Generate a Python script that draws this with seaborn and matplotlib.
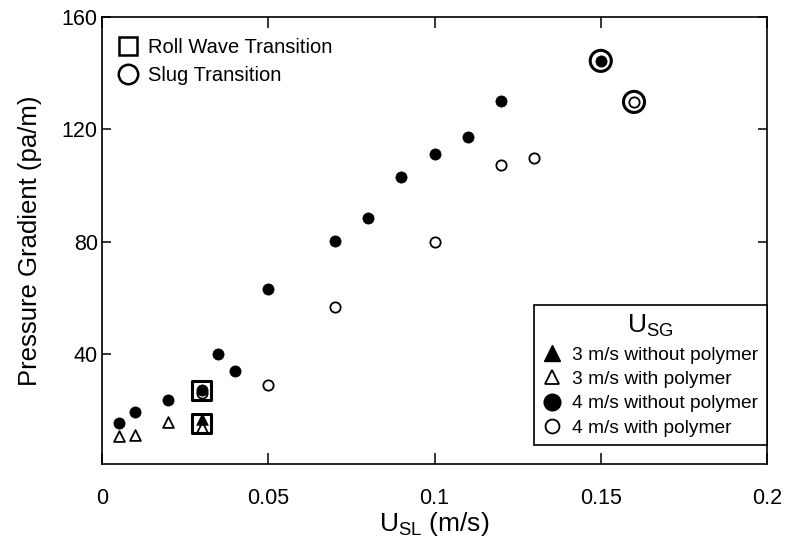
import pandas as pd
import seaborn as sns
import matplotlib.pyplot as plt
from matplotlib.lines import Line2D

# dados
x_3_sem = [0.03]
y_3_sem = [17]

x_3_com = [0.005, 0.01, 0.02, 0.03]
y_3_com = [11, 11.5, 16, 14]

x_4_sem = [0.005, 0.01, 0.02, 0.03, 0.035, 0.04, 0.05, 0.07, 0.08, 0.09, 0.1, 0.11, 0.12, 0.15]
y_4_sem = [15.5, 19.4, 23.8, 27.5, 40.2, 34, 63.3, 80.4, 88.6, 103, 111.2, 117.3, 130.2, 144.4]

x_4_com = [0.03, 0.05, 0.07, 0.1, 0.12, 0.13, 0.16]
y_4_com = [26.3, 29.2, 57, 80, 107.3, 109.7, 129.8]

# transições
x_roll = [0.03, 0.03]
y_roll = [27.2, 15.4]
x_slug = [0.15, 0.16]
y_slug = [144.4, 129.8]

sns.set_theme(style='ticks')
plt.rcParams['font.family'] = ['Liberation Sans', 'DejaVu Sans']
plt.rcParams['mathtext.fontset'] = 'custom'
plt.rcParams['mathtext.rm'] = 'Liberation Sans'
plt.rcParams['mathtext.it'] = 'Liberation Sans:italic'
plt.rcParams['text.color'] = 'black'
plt.rcParams['axes.labelcolor'] = 'black'

fig = plt.figure(figsize=(7.87, 5.4), dpi=100)
ax = fig.add_axes([0.1296, 0.1407, 0.845, 0.8278])

sns.scatterplot(x=x_3_com, y=y_3_com, marker='^', s=60, color='white', edgecolor='black', linewidth=1.3, ax=ax, zorder=3)
sns.scatterplot(x=x_3_sem, y=y_3_sem, marker='^', s=70, color='black', edgecolor='black', linewidth=0.5, ax=ax, zorder=3)
sns.scatterplot(x=x_4_com, y=y_4_com, marker='o', s=55, color='white', edgecolor='black', linewidth=1.3, ax=ax, zorder=3)
sns.scatterplot(x=x_4_sem, y=y_4_sem, marker='o', s=65, color='black', edgecolor='black', linewidth=0.5, ax=ax, zorder=4)
sns.scatterplot(x=x_roll, y=y_roll, marker='s', s=190, color='none', edgecolor='black', linewidth=2.2, ax=ax, zorder=5)
sns.scatterplot(x=x_slug, y=y_slug, marker='o', s=230, color='none', edgecolor='black', linewidth=2.2, ax=ax, zorder=5)

ax.set_xlim(0, 0.2)
ax.set_ylim(1, 159.3)
ax.set_xticks([0, 0.05, 0.1, 0.15, 0.2])
ax.set_xticklabels(['0', '0.05', '0.1', '0.15', '0.2'])
ax.set_yticks([40, 80, 120, 160])
ax.tick_params(direction='in', width=1.1, top=True, right=True, labelsize=15.5, colors='black')
ax.tick_params(axis='x', length=8, pad=17)
ax.tick_params(axis='y', length=6.5, pad=3)
for sp in ax.spines.values():
    sp.set_linewidth(1.2)
    sp.set_color('black')

ax.set_xlabel(r'U$_{\mathrm{SL}}$ (m/s)', fontsize=19, labelpad=1)
ax.set_ylabel('Pressure Gradient (pa/m)', fontsize=18.5, labelpad=14)

# legenda das transições
h1 = [Line2D([], [], marker='s', ls='none', ms=13, mfc='none', mec='black', mew=1.8),
      Line2D([], [], marker='o', ls='none', ms=14, mfc='none', mec='black', mew=1.8)]
leg1 = ax.legend(h1, ['Roll Wave Transition', 'Slug Transition'], loc='upper left',
                 bbox_to_anchor=(0.0, 0.987), frameon=False, fontsize=14.5,
                 handletextpad=0.45, labelspacing=0.45, borderaxespad=0.35, handlelength=1.1)
ax.add_artist(leg1)

# legenda das séries
h2 = [Line2D([], [], marker='^', ls='none', ms=11, mfc='black', mec='black'),
      Line2D([], [], marker='^', ls='none', ms=10, mfc='white', mec='black', mew=1.3),
      Line2D([], [], marker='o', ls='none', ms=12, mfc='black', mec='black'),
      Line2D([], [], marker='o', ls='none', ms=10, mfc='white', mec='black', mew=1.3)]
leg2 = ax.legend(h2, ['3 m/s without polymer', '3 m/s with polymer',
                      '4 m/s without polymer', '4 m/s with polymer'],
                 loc='lower right', bbox_to_anchor=(1.0, 0.042), borderaxespad=0,
                 title=r'U$_{\mathrm{SG}}$', title_fontsize=19, fontsize=13.8,
                 fancybox=False, edgecolor='black', framealpha=1,
                 handletextpad=0.55, labelspacing=0.36, handlelength=1.0, borderpad=0.45)
leg2.get_frame().set_linewidth(1.2)

plt.savefig('out.png', dpi=100)
